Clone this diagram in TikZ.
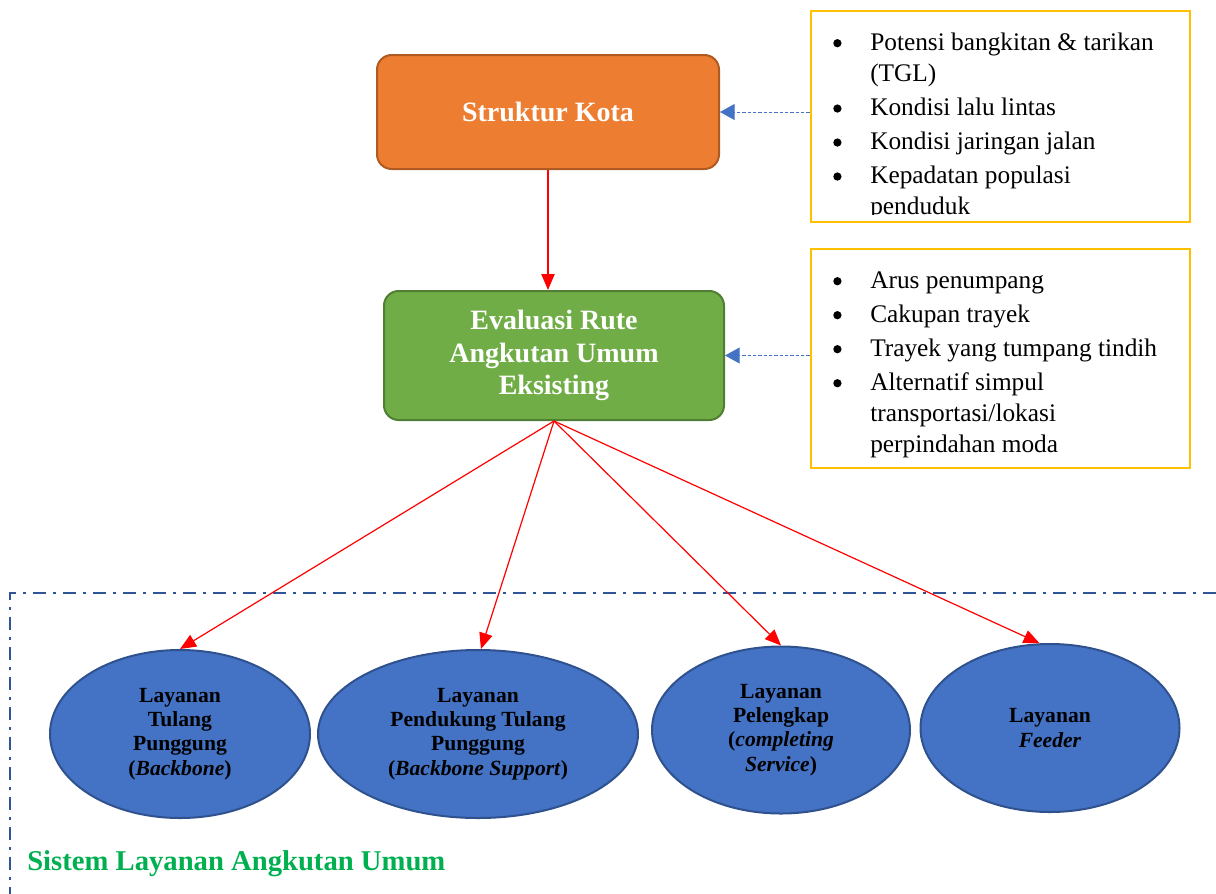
\documentclass[tikz,border=0pt]{standalone}
\usepackage{fontspec}
\setmainfont{Liberation Serif}
\usetikzlibrary{shapes.geometric,arrows.meta}
\definecolor{orangefill}{HTML}{ED7D31}
\definecolor{orangeline}{HTML}{AE5A21}
\definecolor{greenfill}{HTML}{70AD47}
\definecolor{greenline}{HTML}{507E32}
\definecolor{bluefill}{HTML}{4472C4}
\definecolor{blueline}{HTML}{2F528F}
\definecolor{yellowline}{HTML}{FFC000}
\definecolor{framecol}{HTML}{2F5597}
\definecolor{labelgreen}{HTML}{00B050}
\tikzset{
  mainbox/.style={rounded corners=11pt, line width=1.5pt, inner sep=0pt, align=center, text=white,
    font=\fontsize{21}{24.4}\selectfont\bfseries},
  infobox/.style={draw=yellowline, line width=2pt, inner sep=0pt},
  infotext/.style={inner sep=0pt, anchor=base west, font=\fontsize{19}{23.5}\selectfont},
  service/.style={ellipse, draw=blueline, fill=bluefill, line width=1.5pt, inner sep=0pt, align=center,
    font=\fontsize{16.2}{18.2}\selectfont\bfseries},
  redarrow/.style={draw=red, line width=0.9pt, -{Triangle[length=12pt,width=10pt]}, red},
  bluearrow/.style={draw=bluefill, line width=0.75pt, dash pattern=on 2.5pt off 1.5pt,
    -{Triangle[length=11pt,width=12pt]}, bluefill},
  framestyle/.style={draw=framecol, line width=2pt, dash pattern=on 10pt off 5pt on 2.5pt off 5pt},
}
\newcommand{\bul}{\makebox[27.75pt][l]{\raisebox{2pt}{\tikz\fill[black] (0,0) circle (3.1pt);}}}
\begin{document}
\begin{tikzpicture}[x=0.75pt,y=-0.75pt]
\useasboundingbox (0,0) rectangle (1216,893);
\clip (0,0) rectangle (1216,893);

% frame
\draw[framestyle] (10,900) -- (10,593) -- (1240,593);

% main boxes
\node[mainbox, draw=orangeline, fill=orangefill, minimum width=256.5pt, minimum height=85.5pt]
  (struk) at (548,112) {Struktur Kota};
\node[mainbox, draw=greenline, fill=greenfill, minimum width=255pt, minimum height=96.75pt]
  (eval) at (554,355.5) {Evaluasi Rute\\Angkutan Umum\\Eksisting};

% info boxes
\node[infobox, minimum width=284.25pt, minimum height=158.25pt] (info1) at (1000.5,116.5) {};
\begin{scope}
\clip (811,11) rectangle (1190,214);
\node[infotext] (info1t) at (833,50) {\fontsize{19}{23.5}\selectfont
\begin{tabular}[t]{@{}l@{}}
\bul Potensi bangkitan \& tarikan\\
\hspace*{27.75pt}(TGL)\\[2pt]
\bul Kondisi lalu lintas\\[2pt]
\bul Kondisi jaringan jalan\\[2pt]
\bul Kepadatan populasi\\
\hspace*{27.75pt}penduduk
\end{tabular}};
\end{scope}

\node[infobox, minimum width=284.25pt, minimum height=164.25pt] (info2) at (1000.5,358.5) {};
\node[infotext] (info2t) at (833,288) {\fontsize{19}{23.5}\selectfont
\begin{tabular}[t]{@{}l@{}}
\bul Arus penumpang\\[2pt]
\bul Cakupan trayek\\[2pt]
\bul Trayek yang tumpang tindih\\[2pt]
\bul Alternatif simpul\\
\hspace*{27.75pt}transportasi/lokasi\\
\hspace*{27.75pt}perpindahan moda
\end{tabular}};

% services
\node[service, minimum width=195pt, minimum height=126pt] (e1) at (180,734)
  {Layanan\\Tulang\\Punggung\\(\textit{Backbone})};
\node[service, minimum width=240pt, minimum height=126pt] (e2) at (478,734)
  {Layanan\\Pendukung Tulang\\Punggung\\(\textit{Backbone Support})};
\node[service, minimum width=193.5pt, minimum height=125.25pt] (e3) at (781,730)
  {Layanan\\Pelengkap\\(\textit{completing}\\\textit{Service})};
\node[service, minimum width=194.25pt, minimum height=126pt] (e4) at (1050,728)
  {Layanan\\\textit{Feeder}};

% label
\node[inner sep=0pt, anchor=base west, text=labelgreen, font=\fontsize{21.5}{24}\selectfont\bfseries]
  (sistem) at (27,870) {Sistem Layanan Angkutan Umum};

% connectors
\draw[bluearrow] (struk.east -| info1.west) -- (struk.east);
\draw[bluearrow] (eval.east -| info2.west) -- (eval.east);
\draw[redarrow] (struk.south) -- (eval.north -| struk.south);
\draw[redarrow] (eval.south) -- (e1.north);
\draw[redarrow] (eval.south) -- (e2.88);
\draw[redarrow] (eval.south) -- (e3.north);
\draw[redarrow] (eval.south) -- (e4.97);
\end{tikzpicture}
\end{document}
